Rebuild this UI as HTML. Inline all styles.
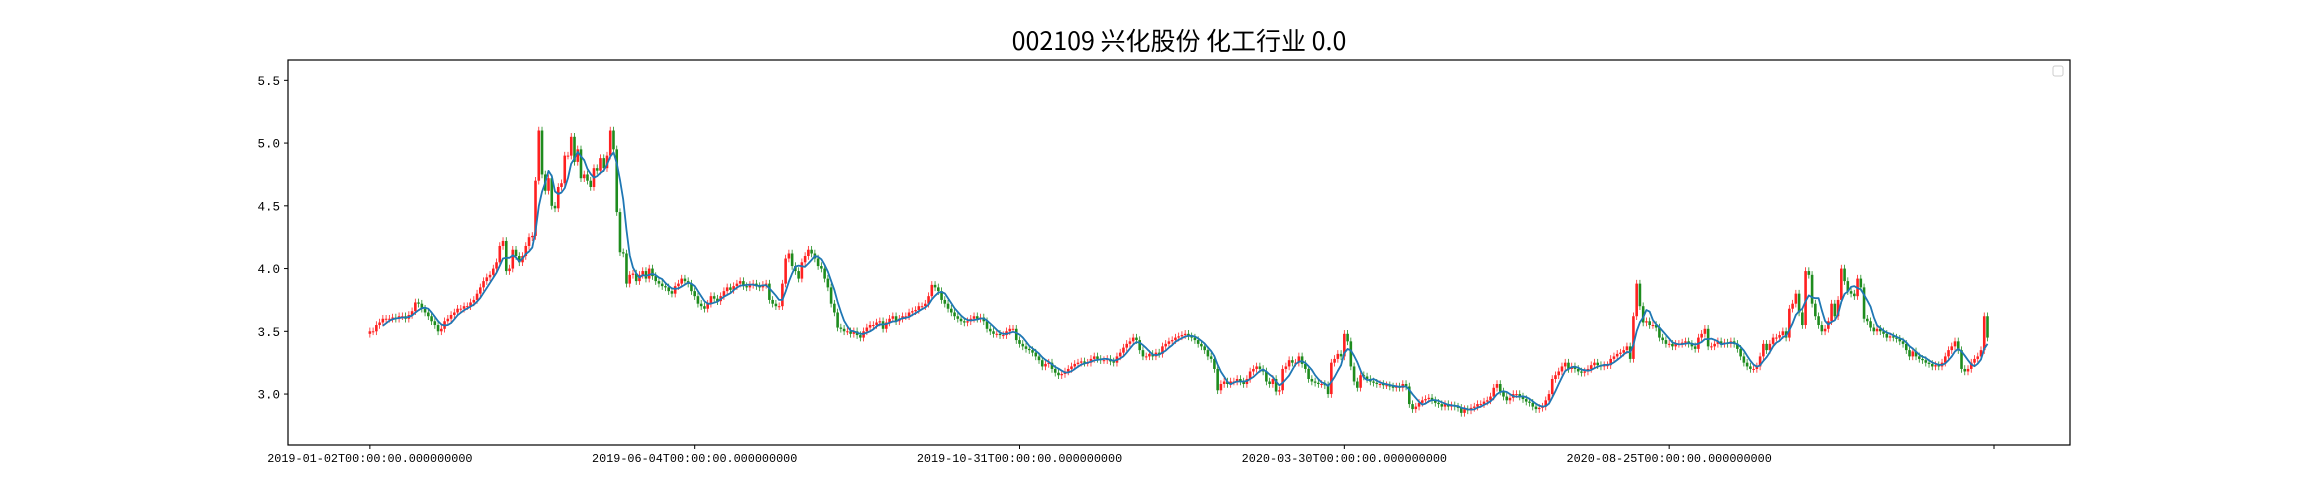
<!DOCTYPE html>
<html><head><meta charset="utf-8"><style>
html,body{margin:0;padding:0;background:#fff;}
svg{display:block;}
</style></head><body>
<svg id="chart" width="2300" height="500" xmlns="http://www.w3.org/2000/svg">
<rect x="0" y="0" width="2300" height="500" fill="#fff"/>
<text x="1179" y="50" text-anchor="middle" font-family="WenQuanYi Zen Hei, Noto Sans CJK SC, sans-serif" font-size="25" fill="#000">002109 兴化股份 化工行业 0.0</text>
<g id="plot"></g>
<rect x="288" y="60" width="1782" height="385" fill="none" stroke="#000" stroke-width="1.2"/>
<rect x="2053" y="66" width="10" height="10" rx="2" fill="#fff" stroke="#ccc" stroke-width="1"/>
</svg>
<script>
const closes = [
3.50,3.50,3.55,3.57,3.60,3.60,3.60,3.61,3.60,3.62,
3.62,3.60,3.63,3.66,3.73,3.72,3.68,3.65,3.62,3.58,
3.55,3.50,3.52,3.58,3.60,3.63,3.65,3.68,3.68,3.70,
3.70,3.73,3.75,3.80,3.85,3.90,3.93,3.95,4.00,4.05,
4.18,4.22,3.98,4.00,4.15,4.10,4.05,4.10,4.18,4.25,
4.26,4.70,5.10,4.75,4.62,4.72,4.50,4.48,4.65,4.68,
4.90,4.90,5.05,4.85,4.95,4.72,4.75,4.70,4.65,4.80,
4.78,4.88,4.80,4.90,5.10,4.95,4.45,4.13,4.12,3.88,
3.95,3.96,3.90,3.95,3.98,3.92,4.00,3.94,3.90,3.88,
3.86,3.85,3.82,3.80,3.86,3.88,3.92,3.90,3.88,3.82,
3.78,3.72,3.70,3.68,3.72,3.78,3.76,3.74,3.78,3.82,
3.85,3.83,3.86,3.88,3.90,3.86,3.85,3.87,3.88,3.86,
3.85,3.87,3.88,3.75,3.72,3.70,3.70,3.88,4.08,4.12,
4.02,3.98,3.92,4.05,4.10,4.15,4.12,4.08,4.02,4.00,
3.92,3.85,3.72,3.65,3.53,3.52,3.50,3.50,3.48,3.50,
3.47,3.45,3.50,3.53,3.55,3.55,3.57,3.58,3.52,3.57,
3.60,3.62,3.58,3.60,3.62,3.62,3.65,3.66,3.67,3.70,
3.70,3.72,3.78,3.87,3.85,3.82,3.75,3.72,3.68,3.65,
3.62,3.60,3.58,3.57,3.58,3.60,3.62,3.60,3.61,3.58,
3.52,3.50,3.48,3.48,3.47,3.47,3.50,3.52,3.52,3.43,
3.40,3.38,3.36,3.35,3.33,3.30,3.27,3.22,3.24,3.25,
3.20,3.17,3.15,3.16,3.18,3.20,3.22,3.24,3.25,3.26,
3.25,3.25,3.28,3.30,3.28,3.27,3.27,3.28,3.26,3.25,
3.30,3.33,3.37,3.40,3.42,3.45,3.43,3.35,3.30,3.30,
3.32,3.30,3.33,3.32,3.38,3.40,3.42,3.43,3.45,3.46,
3.47,3.48,3.46,3.45,3.43,3.40,3.38,3.35,3.30,3.28,
3.20,3.03,3.08,3.10,3.08,3.10,3.10,3.12,3.10,3.08,
3.12,3.18,3.20,3.22,3.20,3.18,3.10,3.08,3.12,3.02,
3.03,3.20,3.22,3.27,3.25,3.25,3.30,3.24,3.20,3.12,
3.10,3.09,3.08,3.08,3.07,3.00,3.25,3.28,3.32,3.30,
3.48,3.42,3.22,3.10,3.05,3.15,3.14,3.12,3.10,3.09,
3.08,3.08,3.07,3.07,3.06,3.05,3.06,3.05,3.08,3.06,
2.92,2.88,2.90,2.93,2.95,2.96,2.97,2.95,2.93,2.92,
2.90,2.92,2.90,2.91,2.90,2.89,2.85,2.88,2.87,2.89,
2.90,2.92,2.92,2.94,2.95,2.98,3.05,3.08,3.02,2.98,
2.95,2.97,3.00,3.00,2.98,2.96,2.94,2.93,2.90,2.88,
2.89,2.90,2.95,3.00,3.12,3.15,3.18,3.22,3.25,3.20,
3.22,3.20,3.18,3.17,3.18,3.20,3.23,3.25,3.23,3.22,
3.23,3.23,3.28,3.30,3.32,3.33,3.35,3.38,3.28,3.62,
3.88,3.70,3.57,3.58,3.55,3.55,3.53,3.45,3.43,3.40,
3.40,3.38,3.40,3.40,3.41,3.42,3.40,3.38,3.36,3.45,
3.48,3.52,3.38,3.38,3.40,3.42,3.40,3.41,3.40,3.42,
3.40,3.36,3.30,3.25,3.22,3.20,3.20,3.22,3.30,3.40,
3.35,3.40,3.45,3.45,3.47,3.50,3.45,3.68,3.72,3.80,
3.65,3.55,3.98,3.95,3.72,3.62,3.55,3.50,3.52,3.58,
3.72,3.62,3.75,4.00,3.90,3.82,3.80,3.78,3.92,3.85,
3.60,3.58,3.53,3.50,3.52,3.50,3.48,3.45,3.46,3.45,
3.44,3.42,3.40,3.35,3.30,3.34,3.30,3.28,3.27,3.25,
3.24,3.22,3.23,3.22,3.25,3.30,3.35,3.38,3.42,3.35,
3.20,3.18,3.20,3.25,3.28,3.30,3.35,3.62,3.45
];
const firstOpen = 3.48;
const yTicks = [3.0, 3.5, 4.0, 4.5, 5.0, 5.5];
const xTickIdx = [0, 100, 200, 300, 400, 500];
const xTickLabels = ["2019-01-02T00:00:00.000000000","2019-06-04T00:00:00.000000000","2019-10-31T00:00:00.000000000","2020-03-30T00:00:00.000000000","2020-08-25T00:00:00.000000000",""];

const L=288,R=2070,T=60,B=445;
const XMIN=-25.2,XMAX=523.4,YMIN=2.594,YMAX=5.662;
const xs=i=>L+(i-XMIN)/(XMAX-XMIN)*(R-L);
const ys=v=>B-(v-YMIN)/(YMAX-YMIN)*(B-T);
const NS="http://www.w3.org/2000/svg";
const svg=document.getElementById('chart');
const plot=document.getElementById('plot');
function mk(tag,attrs,parent){const e=document.createElementNS(NS,tag);for(const k in attrs)e.setAttribute(k,attrs[k]);(parent||svg).appendChild(e);return e;}

yTicks.forEach(v=>{
  const y=ys(v);
  const t=mk('line',{x1:L-4,x2:L,y1:y,y2:y,stroke:'#000','stroke-width':1});
  
  
  const lb=mk('text',{x:L-8,y:y+4.5,'text-anchor':'end','font-family':'Liberation Mono, monospace','font-size':'12.5',fill:'#000'});
  
  
  lb.textContent=v.toFixed(1);
});
xTickIdx.forEach((i,k)=>{
  const x=xs(i);
  const t=mk('line',{x1:x,x2:x,y1:B,y2:B+4,stroke:'#000','stroke-width':1});
  
  
  if(xTickLabels[k]){
    const lb=mk('text',{x:x,y:B+17,'text-anchor':'middle','font-family':'Liberation Mono, monospace','font-size':'11.8',fill:'#000'});
    
    
    lb.textContent=xTickLabels[k];
  }
});
const bw=(xs(1)-xs(0))*0.8;
closes.forEach((c,i)=>{
  const o=i===0?firstOpen:closes[i-1];
  const up=c>=o;
  const col=up?'#ff2020':'#1e8c1e';
  const hi=Math.max(o,c)+0.03, lo=Math.min(o,c)-0.03;
  const x=xs(i);
  const w=mk('line',{x1:x,x2:x,y1:ys(hi),y2:ys(lo),stroke:col,'stroke-width':0.8},plot);
  
  
  const top=ys(Math.max(o,c)),bot=ys(Math.min(o,c));
  const r=mk('rect',{x:x-bw/2,y:top,width:bw,height:Math.max(1,bot-top),fill:col},plot);
  
  
});
const N=5;let pts=[];
for(let i=N-1;i<closes.length;i++){let s=0;for(let j=i-N+1;j<=i;j++)s+=closes[j];pts.push(xs(i).toFixed(1)+','+ys(s/N).toFixed(1));}
const ma=mk('polyline',{points:pts.join(' '),fill:'none',stroke:'#1f77b4','stroke-width':1.8,'stroke-linejoin':'round'},plot);


</script>
</body></html>
